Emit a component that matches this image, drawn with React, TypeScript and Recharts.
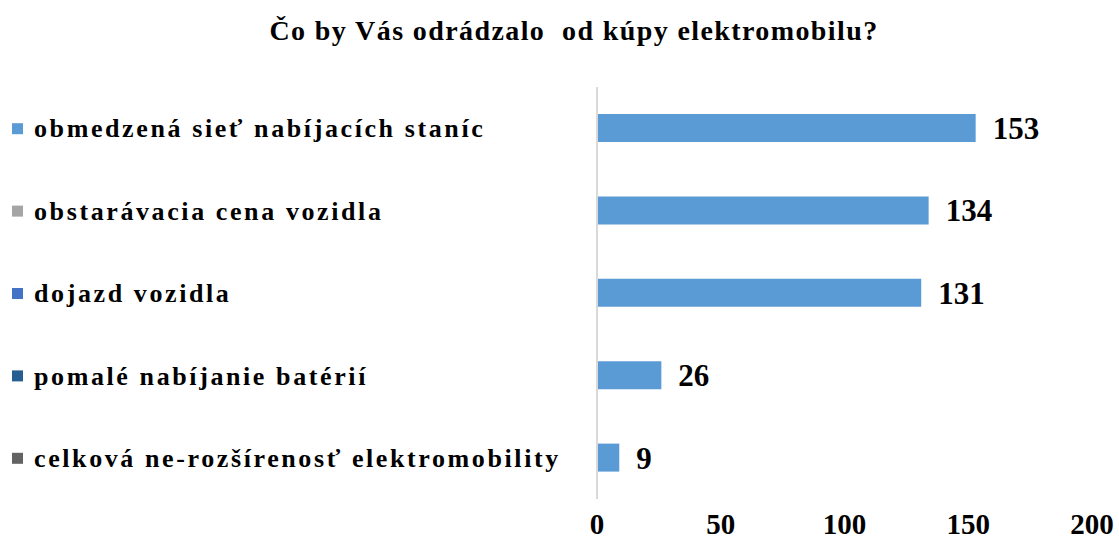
import { BarChart, Bar, XAxis, YAxis, LabelList } from "recharts";

const categories = [
  "obmedzená sieť nabíjacích staníc",
  "obstarávacia cena vozidla",
  "dojazd vozidla",
  "pomalé nabíjanie batérií",
  "celková ne-rozšírenosť elektromobility",
];
const counts = [153, 134, 131, 26, 9];
const markerColors = ["#5B9BD5", "#A5A5A5", "#4472C4", "#255E91", "#636363"];
const xTicks = [0, 50, 100, 150, 200];

const data = categories.map((name, i) => ({ name, value: counts[i] }));

const FONT = "'Liberation Serif', 'Times New Roman', serif";

const CategoryTick = (props: any) => {
  const { y, payload, index } = props;
  return (
    <g>
      <rect x={12} y={y - 5} width={11} height={11} fill={markerColors[index]} />
      <text
        x={34}
        y={y}
        dy="0.35em"
        textAnchor="start"
        fontFamily={FONT}
        fontWeight="bold"
        fontSize={26}
        letterSpacing={2.6}
        fill="#000"
      >
        {payload.value}
      </text>
    </g>
  );
};

const ValueTick = (props: any) => {
  const { x, y, payload } = props;
  return (
    <text x={x} y={y} dy={27} textAnchor="middle" fontFamily={FONT} fontWeight="bold" fontSize={29} fill="#000">
      {payload.value}
    </text>
  );
};

export default function App() {
  return (
    <div style={{ position: "absolute", left: 0, top: 0, width: 1119, height: 542, background: "#fff" }}>
      <div
        style={{
          position: "absolute",
          left: 0,
          top: 15,
          width: 1148,
          textAlign: "center",
          fontFamily: FONT,
          fontWeight: "bold",
          fontSize: 28,
          letterSpacing: 1.4,
          whiteSpace: "pre",
        }}
      >
        {"Čo by Vás odrádzalo  od kúpy elektromobilu?"}
      </div>
      <BarChart
        width={1119}
        height={542}
        layout="vertical"
        data={data}
        margin={{ top: 87, right: 27, bottom: 0, left: 0 }}
      >
        <XAxis
          type="number"
          domain={[0, 200]}
          ticks={xTicks}
          axisLine={false}
          tickLine={false}
          height={43}
          tick={<ValueTick />}
        />
        <YAxis
          type="category"
          dataKey="name"
          width={597}
          axisLine={{ stroke: "#D9D9D9", strokeWidth: 2 }}
          tickLine={false}
          tick={<CategoryTick />}
        />
        <Bar dataKey="value" fill="#5B9BD5" barSize={28} isAnimationActive={false}>
          <LabelList
            dataKey="value"
            position="right"
            offset={17}
            fontFamily={FONT}
            fontWeight="bold"
            fontSize={31}
            fill="#000"
          />
        </Bar>
      </BarChart>
    </div>
  );
}
